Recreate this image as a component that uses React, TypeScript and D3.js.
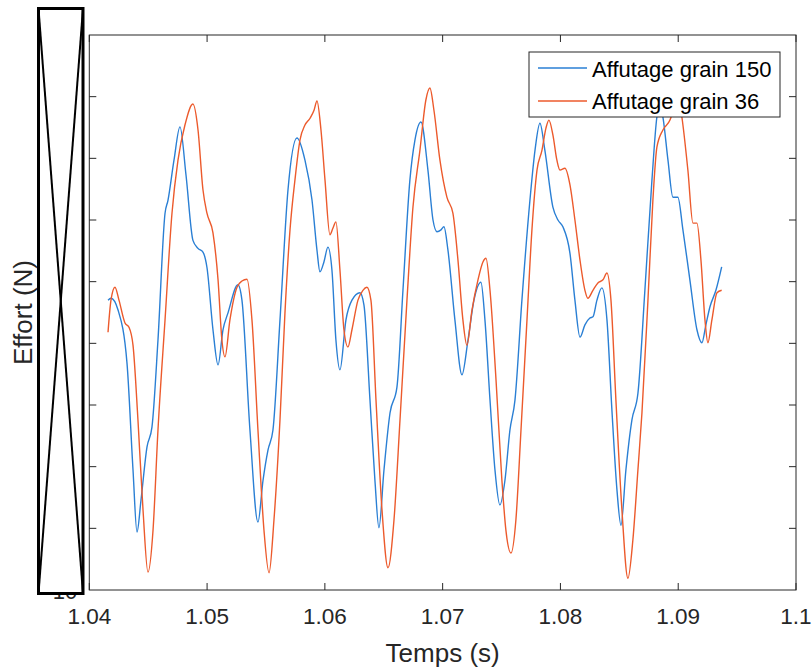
import React from "react";
import * as d3 from "d3";

// ---- Data ----
const xTickValues = [1.04, 1.05, 1.06, 1.07, 1.08, 1.09, 1.1];
const xTickLabels = ["1.04", "1.05", "1.06", "1.07", "1.08", "1.09", "1.1"];
const yTickValues = [1, 2, 3, 4, 5, 6, 7, 8];

const seriesNames = ["Affutage grain 150", "Affutage grain 36"];

const blueT = [
  1.04159, 1.04184, 1.04244, 1.0432, 1.04371, 1.04405, 1.04439, 1.0449, 1.04532, 1.04583,
  1.04643, 1.04668, 1.04719, 1.0477, 1.04821, 1.0488, 1.04923, 1.04965, 1.04999, 1.0505,
  1.05093, 1.05135, 1.05177, 1.05262, 1.05296, 1.05364, 1.05432, 1.05475, 1.05517, 1.05559,
  1.05619, 1.05687, 1.05763, 1.05831, 1.05891, 1.05933, 1.05958, 1.05992, 1.06026, 1.0606,
  1.06094, 1.06128, 1.06179, 1.0623, 1.06298, 1.06332, 1.06383, 1.06425, 1.06459, 1.06502,
  1.06553, 1.06612, 1.06663, 1.06722, 1.06765, 1.06816, 1.06875, 1.06918, 1.06952, 1.06986,
  1.07011, 1.07045, 1.07104, 1.07164, 1.07215, 1.07266, 1.07325, 1.07359, 1.07402, 1.07444,
  1.07486, 1.07529, 1.07571, 1.07614, 1.07673, 1.07741, 1.07784, 1.07826, 1.07868, 1.07936,
  1.07979, 1.08021, 1.08081, 1.08123, 1.08166, 1.08208, 1.0825, 1.08276, 1.0831, 1.08352,
  1.08395, 1.08437, 1.0848, 1.08514, 1.08556, 1.08607, 1.08658, 1.08717, 1.08777, 1.08819,
  1.08845, 1.0887, 1.08913, 1.08955, 1.08997, 1.0904, 1.09099, 1.09159, 1.09201, 1.09235, 1.09269,
  1.0932, 1.09369,
];
const blueF = [
  4.7, 4.73, 4.54, 3.68, 1.95, 0.94, 1.46, 2.32, 2.64, 4.05,
  6.11, 6.32, 6.97, 7.51, 6.73, 5.67, 5.54, 5.48, 5.23, 4.22,
  3.65, 4.22, 4.49, 4.95, 4.7, 2.59, 1.1, 1.78, 2.27, 2.59,
  4.38, 6.49, 7.33, 6.97, 6.32, 5.51, 5.16, 5.32, 5.56, 5.19,
  4.05, 3.57, 4.38, 4.7, 4.82, 4.62, 3.08, 1.78, 1.01, 1.95,
  2.87, 3.29, 4.86, 6.65, 7.3, 7.59, 6.81, 6.0, 5.81, 5.84,
  5.89, 5.51, 4.38, 3.49, 4.05, 4.7, 4.99, 4.38, 3.08, 1.95,
  1.38, 1.78, 2.59, 3.08, 4.7, 6.32, 7.13, 7.57, 7.13, 6.21,
  6.0, 5.89, 5.46, 4.7, 4.1, 4.3, 4.41, 4.43, 4.7, 4.9,
  4.38, 2.92, 1.62, 1.05, 1.95, 2.76, 3.19, 4.86, 6.65, 7.67,
  7.86, 7.67, 6.97, 6.37, 6.37, 5.84, 5.03, 4.22, 4.01, 4.3, 4.59,
  4.86, 5.24,
];

const redT = [
  1.04159, 1.04184, 1.04218, 1.04252, 1.04303, 1.04337, 1.04371, 1.04413, 1.04456, 1.04498,
  1.04541, 1.04583, 1.04643, 1.04702, 1.04753, 1.04812, 1.0488, 1.04923, 1.04965, 1.04999,
  1.0505, 1.05093, 1.05126, 1.05152, 1.05194, 1.05254, 1.05296, 1.05339, 1.05381, 1.05432,
  1.05483, 1.05526, 1.05568, 1.05619, 1.05661, 1.05704, 1.05746, 1.05789, 1.05831, 1.05874,
  1.05908, 1.05933, 1.05967, 1.06001, 1.06043, 1.06069, 1.06094, 1.06128, 1.06162, 1.06196,
  1.0623, 1.06281, 1.06323, 1.06357, 1.06391, 1.06434, 1.06485, 1.06536, 1.06587, 1.06638,
  1.06697, 1.06748, 1.06807, 1.06858, 1.06892, 1.06926, 1.06977, 1.07036, 1.07087, 1.0713,
  1.07172, 1.07206, 1.07249, 1.073, 1.07342, 1.07368, 1.07402, 1.07453, 1.07503, 1.07537,
  1.0758, 1.07622, 1.07665, 1.07716, 1.07758, 1.07801, 1.07843, 1.07877, 1.07902, 1.07936,
  1.0797, 1.07996, 1.08038, 1.08081, 1.08123, 1.08166, 1.08208, 1.08233, 1.08276, 1.08318,
  1.08361, 1.08395, 1.08429, 1.08471, 1.08522, 1.08573, 1.08615, 1.08658, 1.08692, 1.08743,
  1.08785, 1.08819, 1.0887, 1.0893, 1.08964, 1.08997, 1.09031, 1.09082, 1.09125, 1.09159,
  1.09193, 1.09227, 1.09252, 1.09286, 1.09329, 1.09369,
];
const redF = [
  4.18, 4.7, 4.91, 4.7, 4.33, 4.26, 3.97, 2.76, 1.3, 0.29,
  0.97, 2.59, 4.38, 6.11, 6.97, 7.54, 7.88, 7.46, 6.49, 6.11,
  5.79, 5.03, 4.05, 3.78, 4.38, 4.91, 5.01, 5.04, 4.38, 2.59,
  0.97, 0.28, 1.14, 2.76, 4.49, 5.84, 6.65, 7.3, 7.54, 7.65,
  7.78, 7.93, 7.46, 6.65, 5.76, 5.87, 5.97, 5.19, 4.22, 3.94,
  4.22, 4.7, 4.86, 4.91, 4.7, 3.08, 1.3, 0.36, 1.14, 2.76,
  4.7, 6.21, 7.13, 7.95, 8.14, 7.78, 6.97, 6.37, 6.11, 5.35,
  4.38, 3.97, 4.54, 5.03, 5.32, 5.38, 4.86, 3.41, 1.78, 0.97,
  0.6, 1.14, 2.59, 4.38, 5.84, 6.81, 7.13, 7.49, 7.62, 7.38,
  6.97, 6.81, 6.84, 6.57, 6.0, 5.35, 4.86, 4.73, 4.86, 4.98,
  5.03, 5.14, 4.7, 3.08, 1.3, 0.19, 0.81, 1.95, 2.87, 4.7,
  6.32, 7.18, 7.46, 7.62, 7.82, 8.03, 7.67, 6.81, 5.95, 5.95,
  5.35, 4.38, 4.01, 4.38, 4.82, 4.86,
];

const BLUE = "#2a7fd4";
const RED = "#ec5a2c";
const AX = "#262626";
const FONT = "'Liberation Sans', Arial, Helvetica, sans-serif";

export default function App() {
  const W = 812;
  const H = 669;
  const left = 89.3, right = 796, top = 35, bottom = 590;
  const x = d3.scaleLinear().domain([1.04, 1.1]).range([left, right]);
  const y = d3.scaleLinear().domain([0, 9]).range([bottom, top]);

  const line = d3
    .line<[number, number]>()
    .x((d) => x(d[0]))
    .y((d) => y(d[1]))
    .curve(d3.curveMonotoneX);

  const blue = d3.zip(blueT, blueF) as [number, number][];
  const red = d3.zip(redT, redF) as [number, number][];
  const tick = 7;

  const legX = 529, legY = 52, legW = 251, legH = 65;

  return (
    <svg
      width={W}
      height={H}
      style={{ position: "absolute", left: 0, top: 0, background: "#fff" }}
      fontFamily={FONT}
    >
      <rect x={0} y={0} width={W} height={H} fill="#fff" />
      <defs>
        <clipPath id="plotclip">
          <rect x={left} y={top} width={right - left} height={bottom - top} />
        </clipPath>
      </defs>

      {/* data lines */}
      <g clipPath="url(#plotclip)">
        <path d={line(blue) || ""} fill="none" stroke={BLUE} strokeWidth={1.4} strokeLinejoin="round" />
        <path d={line(red) || ""} fill="none" stroke={RED} strokeWidth={1.4} strokeLinejoin="round" />
      </g>

      {/* frame */}
      <rect x={left} y={top} width={right - left} height={bottom - top} fill="none" stroke={AX} strokeWidth={1} />

      {/* x ticks (bottom and top) */}
      {xTickValues.map((v, i) => (
        <g key={"xt" + i}>
          <line x1={x(v)} x2={x(v)} y1={bottom} y2={bottom - tick} stroke={AX} strokeWidth={1} />
          <line x1={x(v)} x2={x(v)} y1={top} y2={top + tick} stroke={AX} strokeWidth={1} />
          <text x={x(v)} y={624} textAnchor="middle" fontSize={22.5} fill={AX}>
            {xTickLabels[i]}
          </text>
        </g>
      ))}

      {/* y ticks (left and right) */}
      {yTickValues.map((v, i) => (
        <g key={"yt" + i}>
          <line x1={left} x2={left + tick} y1={y(v)} y2={y(v)} stroke={AX} strokeWidth={1} />
          <line x1={right} x2={right - tick} y1={y(v)} y2={y(v)} stroke={AX} strokeWidth={1} />
        </g>
      ))}

      {/* axis titles */}
      <text x={(left + right) / 2} y={662} textAnchor="middle" fontSize={26} fill={AX}>
        Temps (s)
      </text>
      <text
        transform={`translate(32, ${(top + bottom) / 2}) rotate(-90)`}
        textAnchor="middle"
        fontSize={26}
        fill={AX}
      >
        Effort (N)
      </text>

      {/* hidden exponent fragment peeking under the placeholder */}
      <text x={65} y={599} textAnchor="middle" fontSize={22} fill={AX}>
        10
      </text>

      {/* broken-image placeholder box */}
      <rect x={38.5} y={8.5} width={44.5} height={585} fill="#fff" stroke="#000" strokeWidth={3} />
      <line x1={38.5} y1={8.5} x2={83} y2={593.5} stroke="#000" strokeWidth={2} />
      <line x1={83} y1={8.5} x2={38.5} y2={593.5} stroke="#000" strokeWidth={2} />

      {/* legend */}
      <rect x={legX} y={legY} width={legW} height={legH} fill="#fff" stroke={AX} strokeWidth={1} />
      <line x1={538} x2={587} y1={68} y2={68} stroke={BLUE} strokeWidth={1.4} />
      <line x1={538} x2={587} y1={101} y2={101} stroke={RED} strokeWidth={1.4} />
      <text x={592} y={77} fontSize={22} fill="#000">
        {seriesNames[0]}
      </text>
      <text x={592} y={109} fontSize={22} fill="#000">
        {seriesNames[1]}
      </text>
    </svg>
  );
}
